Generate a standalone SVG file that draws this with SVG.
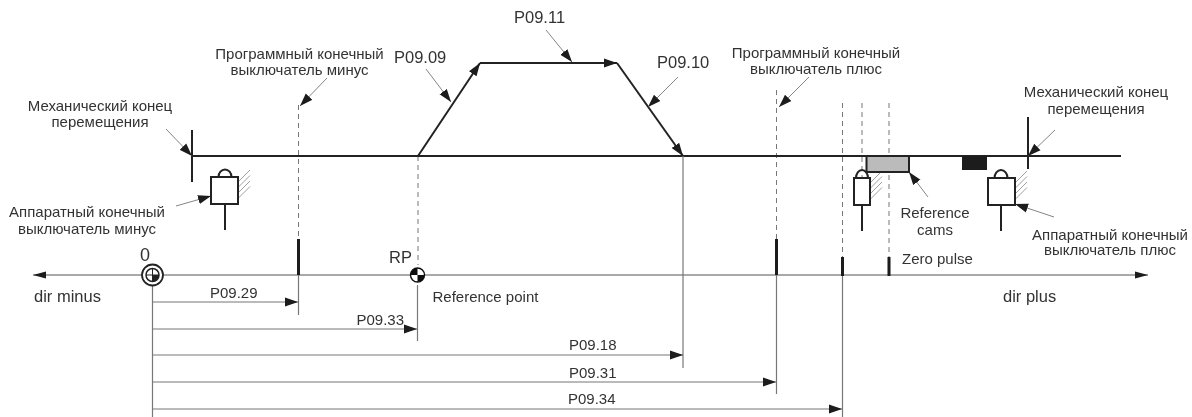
<svg xmlns="http://www.w3.org/2000/svg" width="1192" height="417" viewBox="0 0 1192 417">
<style>
text{font-family:"Liberation Sans",Arial,sans-serif;font-size:15px;fill:#333}
.m{text-anchor:middle}
.h{font-size:16.5px}
.d{font-size:16.5px}
.thick{stroke:#222;stroke-width:2;fill:none}
.thin{stroke:#555;stroke-width:1;fill:none}
.dim{stroke:#777;stroke-width:1.2;fill:none}
.lead{stroke:#666;stroke-width:.8;fill:none}
.dash{stroke:#777;stroke-width:1;stroke-dasharray:5 4;fill:none}
.tick{stroke:#1a1a1a;stroke-width:3}
.hatch{stroke:#888;stroke-width:.8}
.box{fill:#fff;stroke:#222;stroke-width:2}
.a{marker-end:url(#ah)}
</style>
<defs>
<filter id="soft" x="0" y="0" width="100%" height="100%"><feGaussianBlur stdDeviation="0.4"/></filter>
<marker id="ah" markerUnits="userSpaceOnUse" markerWidth="14" markerHeight="10" refX="13" refY="5" orient="auto"><path d="M0 .5L13 5L0 9.500Z" fill="#1a1a1a"/></marker>
<marker id="as" markerUnits="userSpaceOnUse" markerWidth="14" markerHeight="8" refX="13" refY="4" orient="auto-start-reverse"><path d="M0 .5L13 4L0 7.500Z" fill="#1a1a1a"/></marker>
<g id="hatch"><path class="hatch" d="M0 0L12 -12M0 5.500L12 -6.500M0 11L12 -1M0 16.500L12 4.500"/></g>
</defs>
<g filter="url(#soft)">
<g id="connectors">
<path class="dash" d="M298.5 105V239M418 156V265M776.5 90V239M842.5 103V257M862 103V178M889 103V257"/>
<path class="thick" d="M192 156H1121M192 130V182M1028 117V169"/>
<path class="thick a" d="M418 156L480 63"/>
<path class="thick a" d="M480 63H617"/>
<path class="thick a" d="M617 63L683 156"/>
<path class="thin" d="M33 275H1148" style="marker-start:url(#as);marker-end:url(#as)"/>
<path class="tick" d="M298.5 239V275M776.5 239V275M842.5 257V276M889 257V276"/>
<path class="dim" d="M152.5 285V417M298.5 275V315M417.5 285V341M683 156V368M776.5 275V394M842.5 276V417"/>
<path class="dim a" d="M152 302H298"/>
<path class="dim a" d="M152 329H417"/>
<path class="dim a" d="M152 355H683"/>
<path class="dim a" d="M152 382H776"/>
<path class="dim a" d="M152 409H842"/>
<path class="lead a" d="M426 69L451 102"/>
<path class="lead a" d="M546 30L572 62"/>
<path class="lead a" d="M678 77L648 107"/>
<path class="lead a" d="M327 78L300 106"/>
<path class="lead a" d="M809 77L779 107"/>
<path class="lead a" d="M166 129L192 156"/>
<path class="lead a" d="M1055 130L1028 156"/>
<path class="lead a" d="M176 206L211 196"/>
<path class="lead a" d="M928 197L909 172"/>
<path class="lead a" d="M1054 217L1015 204"/>
</g>
<g id="switch-minus">
<use href="#hatch" x="238" y="182"/>
<path class="thick" d="M218.5 177A6.500 7.500 0 0 1 231.500 177M225 204V230"/>
<rect class="box" x="211" y="177" width="27" height="27"/>
</g>
<g id="switch-ref">
<use href="#hatch" x="870" y="183"/>
<path class="thick" d="M856 178A6 8 0 0 1 868 178M862 205V231"/>
<rect class="box" x="854" y="178" width="16" height="27"/>
</g>
<g id="switch-plus">
<use href="#hatch" x="1015" y="183"/>
<path class="thick" d="M994.5 178A6.500 8 0 0 1 1007.500 178M1001 205V231"/>
<rect class="box" x="988" y="178" width="27" height="27"/>
</g>
<g id="reference-cam"><rect x="866.500" y="156" width="42.500" height="16" fill="#bbb" stroke="#222" stroke-width="2"/></g>
<g id="black-cam"><rect x="962" y="156" width="25" height="14" fill="#1a1a1a"/></g>
<g id="origin">
<circle cx="152.500" cy="275" r="10.500" fill="#fff" stroke="#222" stroke-width="1.800"/>
<circle cx="152.500" cy="275" r="6.500" fill="#fff" stroke="#222" stroke-width="1.500"/>
<path d="M152.500 275H159A6.500 6.500 0 0 1 152.500 281.500Z" fill="#222"/>
<path d="M146 275H159M152.500 268.500V281.500" stroke="#222" stroke-width="1"/>
</g>
<g id="rp">
<circle cx="417.500" cy="275" r="7" fill="#fff" stroke="#111" stroke-width="1.400"/>
<path d="M417.500 275V268A7 7 0 0 0 410.500 275ZM417.500 275V282A7 7 0 0 0 424.500 275Z" fill="#111"/>
</g>
<g id="labels">
<text class="m" x="100" y="111">Механический конец</text>
<text class="m" x="100" y="127">перемещения</text>
<text class="m" x="87" y="217">Аппаратный конечный</text>
<text class="m" x="87" y="234">выключатель минус</text>
<text class="m" x="299.500" y="59">Программный конечный</text>
<text class="m" x="299.500" y="75">выключатель минус</text>
<text class="m" x="816" y="58">Программный конечный</text>
<text class="m" x="816" y="74">выключатель плюс</text>
<text class="m" x="1096" y="97">Механический конец</text>
<text class="m" x="1096" y="114">перемещения</text>
<text class="m" x="1110" y="240">Аппаратный конечный</text>
<text class="m" x="1110" y="255">выключатель плюс</text>
<text class="m" x="935" y="218">Reference</text>
<text class="m" x="935" y="235">cams</text>
<text x="902" y="264">Zero pulse</text>
<text x="432.500" y="302">Reference point</text>
<text x="34" y="302" class="d">dir minus</text>
<text x="1003" y="302" class="d">dir plus</text>
<text x="140" y="261" style="font-size:18px">0</text>
<text x="389" y="263" class="h">RP</text>
<text x="394" y="63" class="h">P09.09</text>
<text x="514" y="23" class="h">P09.11</text>
<text x="657" y="68" class="h">P09.10</text>
<text x="210" y="298">P09.29</text>
<text x="356.500" y="325">P09.33</text>
<text x="569" y="350">P09.18</text>
<text x="569" y="378">P09.31</text>
<text x="568" y="404">P09.34</text>
</g>
</g>
</svg>
